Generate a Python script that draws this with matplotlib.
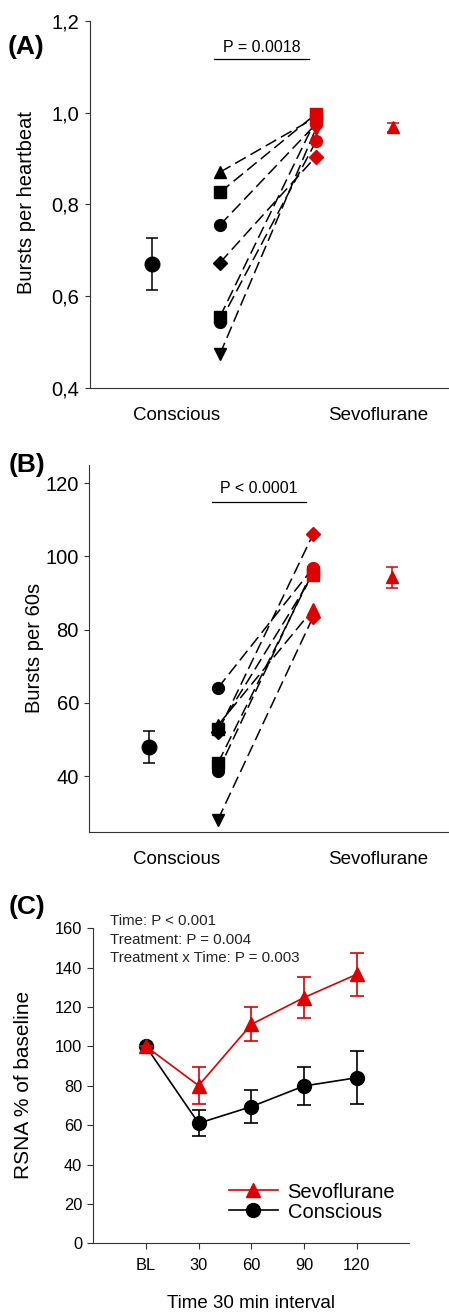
import matplotlib
matplotlib.use("Agg")
import matplotlib.pyplot as plt
import numpy as np

plt.rcParams['font.family'] = ['Liberation Sans', 'DejaVu Sans']

RED = '#DD0000'

# ---- Panel A: bursts per heartbeat ----
a_con_mean, a_con_err = 0.670, 0.057
a_sevo_mean, a_sevo_err = 0.968, 0.010
a_con = [0.870, 0.826, 0.755, 0.673, 0.555, 0.543, 0.474]
a_sevo = [0.990, 0.997, 0.975, 0.904, 0.985, 0.937, 0.965]
a_con_mk = ['^', 's', 'o', 'D', 's', 'o', 'v']
a_sevo_mk = ['^', 's', 'o', 'D', 's', 'o', 'v']

# ---- Panel B: bursts per 60 s ----
b_con_mean, b_con_err = 48.0, 4.3
b_sevo_mean, b_sevo_err = 94.3, 2.9
b_con = [64.1, 53.9, 52.0, 52.8, 43.6, 41.3, 28.1]
b_sevo = [96.9, 85.6, 106.1, 95.0, 95.8, 96.5, 83.5]
b_con_mk = ['o', '^', 'D', 's', 's', 'o', 'v']
b_sevo_mk = ['o', '^', 'D', 's', 's', 'o', 'D']

# ---- Panel C: RSNA time course ----
c_times = ['BL', '30', '60', '90', '120']
c_sevo = [100.0, 80.1, 111.2, 124.8, 136.6]
c_sevo_err = [0.0, 9.5, 8.6, 10.3, 11.0]
c_con = [100.0, 61.0, 69.4, 79.9, 84.1]
c_con_err = [0.0, 6.6, 8.4, 9.5, 13.5]
c_stats = ['Time: P < 0.001', 'Treatment: P = 0.004', 'Treatment x Time: P = 0.003']

groups = ['Conscious', 'Sevoflurane']

W, H = 449, 1313
fig = plt.figure(figsize=(W / 100, H / 100), dpi=100)


def rect(left, top, right, bottom):
    return [left / W, 1 - bottom / H, (right - left) / W, (bottom - top) / H]


def paired_panel(ax, con, sevo, con_mk, sevo_mk, con_mean, con_err,
                 sevo_mean, sevo_err, xpos):
    x_mean_c, x_ind_c, x_ind_s, x_mean_s = xpos
    for yc, ys in zip(con, sevo):
        ax.plot([x_ind_c, x_ind_s], [yc, ys], color='black', lw=1.1,
                ls=(0, (8, 3.5)), zorder=2)
    for yc, m in zip(con, con_mk):
        ax.plot(x_ind_c, yc, marker=m, color='black', ms=8.5 if m != 'D' else 7,
                ls='none', zorder=3)
    for ys, m in zip(sevo, sevo_mk):
        ax.plot(x_ind_s, ys, marker=m, color=RED, ms=8.5 if m != 'D' else 7,
                ls='none', zorder=3)
    ax.errorbar(x_mean_c, con_mean, yerr=con_err, fmt='o', color='black',
                ms=10.5, capsize=4.5, elinewidth=1.1, capthick=1.1)
    ax.errorbar(x_mean_s, sevo_mean, yerr=sevo_err, fmt='^', color=RED,
                ms=9, capsize=4.5, elinewidth=1.1, capthick=1.1)
    ax.set_xlim(0, 4.5)
    ax.spines['top'].set_visible(False)
    ax.spines['right'].set_visible(False)
    for s in ['left', 'bottom']:
        ax.spines[s].set_linewidth(0.8)
        ax.spines[s].set_color('#333333')
    ax.set_xticks([1.09, 3.61], groups)
    ax.tick_params(axis='x', length=0, pad=14, labelsize=13.5)
    ax.tick_params(axis='y', length=3.5, width=0.8, pad=4, labelsize=14.5,
                   color='#333333')


# Panel A
axA = fig.add_axes(rect(90, 20.7, 449, 388))
paired_panel(axA, a_con, a_sevo, a_con_mk, a_sevo_mk, a_con_mean, a_con_err,
             a_sevo_mean, a_sevo_err, [0.777, 1.629, 2.832, 3.797])
axA.set_ylim(0.4, 1.2)
axA.set_yticks([0.4, 0.6, 0.8, 1.0, 1.2], ['0,4', '0,6', '0,8', '1,0', '1,2'])
axA.plot([1.554, 2.744], [1.117, 1.117], color='black', lw=0.9, clip_on=False)
axA.text(2.15, 1.141, 'P = 0.0018', ha='center', va='center', fontsize=11.5)
fig.text(27 / W, 1 - 203 / H, 'Bursts per heartbeat', rotation=90,
         ha='center', va='center', fontsize=14.5)
fig.text(8 / W, 1 - 47 / H, '(A)', fontsize=19, fontweight='bold', va='center')

# Panel B
axB = fig.add_axes(rect(89.3, 465, 449, 831.7))
paired_panel(axB, b_con, b_sevo, b_con_mk, b_sevo_mk, b_con_mean, b_con_err,
             b_sevo_mean, b_sevo_err, [0.748, 1.610, 2.800, 3.790])
axB.set_ylim(24.8, 125)
axB.set_yticks([40, 60, 80, 100, 120])
axB.plot([1.54, 2.71], [114.9, 114.9], color='black', lw=0.9, clip_on=False)
axB.text(2.12, 118.6, 'P < 0.0001', ha='center', va='center', fontsize=11.5)
fig.text(34 / W, 1 - 648 / H, 'Bursts per 60s', rotation=90,
         ha='center', va='center', fontsize=14.5)
fig.text(9 / W, 1 - 465 / H, '(B)', fontsize=19, fontweight='bold', va='center')

# Panel C
axC = fig.add_axes(rect(93.3, 928.3, 409.3, 1243.3))
x = np.arange(len(c_times))
axC.errorbar(x, c_sevo, yerr=c_sevo_err, fmt='none', ecolor=RED,
             capsize=4.8, elinewidth=1.2, capthick=1.2, zorder=3)
axC.plot(x, c_sevo, '-^', color=RED, ms=10, lw=1.2, label='Sevoflurane', zorder=4)
axC.errorbar(x, c_con, yerr=c_con_err, fmt='none', ecolor='black',
             capsize=4.8, elinewidth=1.2, capthick=1.2, zorder=2)
axC.plot(x, c_con, '-o', color='black', ms=10, lw=1.2, label='Conscious', zorder=2)
axC.set_xlim(-1, 5)
axC.set_ylim(0, 160)
axC.set_yticks(np.arange(0, 161, 20))
axC.set_xticks(x, c_times)
axC.spines['top'].set_visible(False)
axC.spines['right'].set_visible(False)
for s in ['left', 'bottom']:
    axC.spines[s].set_linewidth(0.8)
    axC.spines[s].set_color('#333333')
axC.tick_params(axis='both', length=4.5, width=0.8, color='#333333', labelsize=11.8)
axC.tick_params(axis='x', pad=6)
axC.set_xlabel('Time 30 min interval', fontsize=13.5, labelpad=16)
for i, s in enumerate(c_stats):
    axC.text(-0.68, 163.7 - 9.5 * i, s, ha='left', va='center', fontsize=10.8,
             color='#222222', clip_on=False)
axC.legend(loc='center left', bbox_to_anchor=(0.43, 0.131), frameon=False,
           fontsize=14.5, handlelength=2.4, handletextpad=0.5, labelspacing=0.05,
           borderpad=0, borderaxespad=0)
fig.text(24 / W, 1 - 1085 / H, 'RSNA % of baseline', rotation=90,
         ha='center', va='center', fontsize=15)
fig.text(9 / W, 1 - 907 / H, '(C)', fontsize=19, fontweight='bold', va='center')

fig.savefig('out.png', dpi=100)
